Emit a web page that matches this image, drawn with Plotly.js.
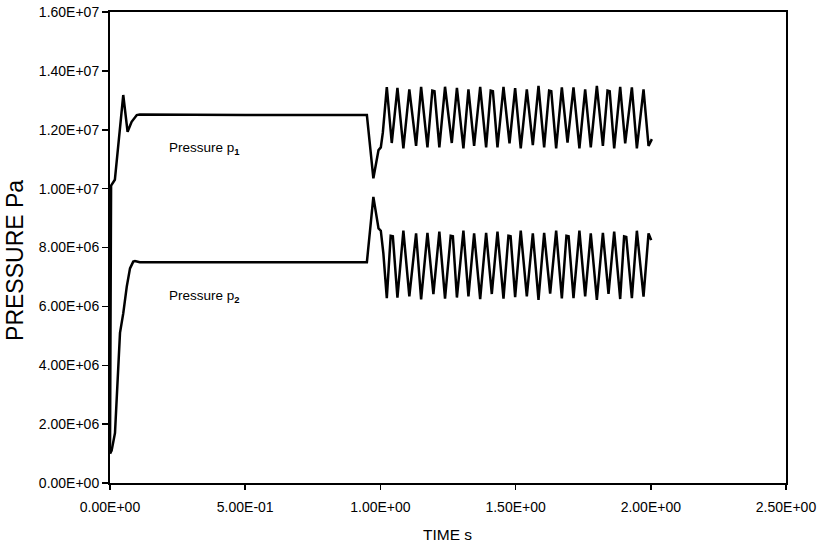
<!DOCTYPE html>
<html><head><meta charset="utf-8">
<script src="https://cdn.plot.ly/plotly-3.0.1.min.js"></script>
<style>html,body{margin:0;padding:0;background:#fff;}#chart{width:823px;height:544px;}</style>
</head><body><div id="chart"></div>
<script>
// Time (s) and pressure p1 (Pa)
const timeP1 = [0, 0.004, 0.018, 0.049, 0.065, 0.080, 0.099, 0.11, 0.5, 0.95, 0.974, 0.993, 1.0015, 1.009,
  1.0237, 1.042, 1.063, 1.085, 1.107, 1.132, 1.1506, 1.174, 1.192, 1.200, 1.218, 1.239, 1.264, 1.283, 1.307, 1.3256, 1.3466,
  1.369, 1.391, 1.408, 1.416, 1.433, 1.4552, 1.4775, 1.4983, 1.519, 1.5415, 1.5637, 1.5847, 1.6056, 1.624, 1.632, 1.65,
  1.671, 1.692, 1.7141, 1.736, 1.7573, 1.778, 1.8005, 1.8228, 1.840, 1.848, 1.8646, 1.8868, 1.9053, 1.93, 1.9485, 1.9731, 1.9916, 2.004];
const pressureP1 = [1.0e6, 1.01e7, 1.03e7, 1.318e7, 1.193e7, 1.227e7, 1.250e7, 1.252e7, 1.250e7, 1.250e7, 1.035e7, 1.131e7, 1.140e7, 1.190e7,
  1.345e7, 1.155e7, 1.342e7, 1.137e7, 1.337e7, 1.145e7, 1.346e7, 1.140e7, 1.333e7, 1.331e7, 1.140e7, 1.346e7, 1.155e7, 1.342e7, 1.137e7, 1.337e7, 1.145e7,
  1.346e7, 1.140e7, 1.333e7, 1.331e7, 1.140e7, 1.346e7, 1.154e7, 1.341e7, 1.137e7, 1.337e7, 1.148e7, 1.349e7, 1.140e7, 1.333e7, 1.331e7, 1.137e7,
  1.344e7, 1.156e7, 1.344e7, 1.137e7, 1.337e7, 1.140e7, 1.349e7, 1.145e7, 1.333e7, 1.331e7, 1.137e7, 1.346e7, 1.154e7, 1.344e7, 1.137e7, 1.337e7, 1.145e7, 1.168e7];

// Time (s) and pressure p2 (Pa)
const timeP2 = [0, 0.006, 0.0185, 0.037, 0.049, 0.062, 0.074, 0.086, 0.0925, 0.11, 0.5, 0.95, 0.974, 0.993, 1.0015, 1.011,
  1.0237, 1.038, 1.046, 1.063, 1.085, 1.107, 1.132, 1.1506, 1.174, 1.196, 1.218, 1.239, 1.260, 1.268, 1.283, 1.307, 1.3256, 1.3466,
  1.369, 1.391, 1.412, 1.433, 1.4552, 1.4735, 1.4815, 1.4983, 1.519, 1.5415, 1.5637, 1.5847, 1.6056, 1.6278, 1.65,
  1.671, 1.688, 1.696, 1.7141, 1.736, 1.7573, 1.778, 1.8005, 1.8228, 1.8436, 1.8646, 1.8868, 1.9013, 1.9093, 1.93, 1.9485, 1.9731, 1.9916, 2.0015];
const pressureP2 = [1.0e6, 1.1e6, 1.7e6, 5.1e6, 5.76e6, 6.67e6, 7.29e6, 7.52e6, 7.54e6, 7.50e6, 7.50e6, 7.50e6, 9.72e6, 8.65e6, 8.57e6, 7.80e6,
  6.28e6, 8.40e6, 8.38e6, 6.30e6, 8.57e6, 6.34e6, 8.48e6, 6.24e6, 8.50e6, 6.42e6, 8.54e6, 6.26e6, 8.40e6, 8.38e6, 6.30e6, 8.57e6, 6.34e6, 8.48e6,
  6.25e6, 8.50e6, 6.42e6, 8.54e6, 6.26e6, 8.40e6, 8.38e6, 6.31e6, 8.57e6, 6.34e6, 8.48e6, 6.22e6, 8.50e6, 6.43e6, 8.57e6,
  6.27e6, 8.40e6, 8.38e6, 6.28e6, 8.57e6, 6.34e6, 8.48e6, 6.22e6, 8.50e6, 6.42e6, 8.54e6, 6.25e6, 8.38e6, 8.36e6, 6.28e6, 8.57e6, 6.33e6, 8.48e6, 8.25e6];

const xTickVals = [0, 0.5, 1.0, 1.5, 2.0, 2.5];
const xTickText = ["0.00E+00", "5.00E-01", "1.00E+00", "1.50E+00", "2.00E+00", "2.50E+00"];
const yTickVals = [0, 2e6, 4e6, 6e6, 8e6, 1.0e7, 1.2e7, 1.4e7, 1.6e7];
const yTickText = ["0.00E+00", "2.00E+06", "4.00E+06", "6.00E+06", "8.00E+06", "1.00E+07", "1.20E+07", "1.40E+07", "1.60E+07"];

const seriesLabels = ["Pressure p<sub><b>1</b></sub>", "Pressure p<sub><b>2</b></sub>"];
const labelX = [0.211, 0.211];
const labelY = [1.135e7, 6.32e6];
const xTitle = "TIME s";
const yTitle = "PRESSURE Pa";

const font = "Liberation Sans, Arial, sans-serif";
const traces = [
  {x: timeP1, y: pressureP1, mode: "lines", line: {color: "#000", width: 2.5}, name: "p1", hoverinfo: "skip"},
  {x: timeP2, y: pressureP2, mode: "lines", line: {color: "#000", width: 2.5}, name: "p2", hoverinfo: "skip"}
];
const annotations = seriesLabels.map((t, i) => ({
  x: labelX[i], y: labelY[i], xref: "x", yref: "y", text: t, showarrow: false,
  xanchor: "left", yanchor: "middle", font: {family: font, size: 13.5, color: "#000"}
}));
annotations.push({x: 0.4993, y: -0.1104, xref: "paper", yref: "paper", text: xTitle, showarrow: false,
  xanchor: "center", yanchor: "middle", font: {family: font, size: 15.5, color: "#000"}});
annotations.push({x: -0.1406, y: 0.4735, xref: "paper", yref: "paper", text: yTitle, showarrow: false, textangle: -90,
  xanchor: "center", yanchor: "middle", font: {family: font, size: 23, color: "#000"}});

const layout = {
  width: 823, height: 544,
  margin: {l: 110, r: 37, t: 12, b: 61},
  paper_bgcolor: "#fff", plot_bgcolor: "#fff",
  showlegend: false,
  font: {family: font, color: "#000", size: 14},
  xaxis: {
    range: [0, 2.5], tickvals: xTickVals, ticktext: xTickText,
    showgrid: false, zeroline: false, showline: true, linecolor: "#000", linewidth: 2, mirror: true,
    ticks: "outside", ticklen: 5, tickwidth: 1.5, tickcolor: "#000", ticklabelstandoff: 5,
    tickfont: {family: font, size: 14, color: "#000"}
  },
  yaxis: {
    range: [0, 1.6e7], tickvals: yTickVals, ticktext: yTickText,
    showgrid: false, zeroline: false, showline: true, linecolor: "#000", linewidth: 2, mirror: true,
    ticks: "outside", ticklen: 6, tickwidth: 1.5, tickcolor: "#000",
    tickfont: {family: font, size: 14, color: "#000"}
  },
  annotations: annotations
};
Plotly.newPlot("chart", traces, layout, {displayModeBar: false, staticPlot: true});
</script>
</body></html>
